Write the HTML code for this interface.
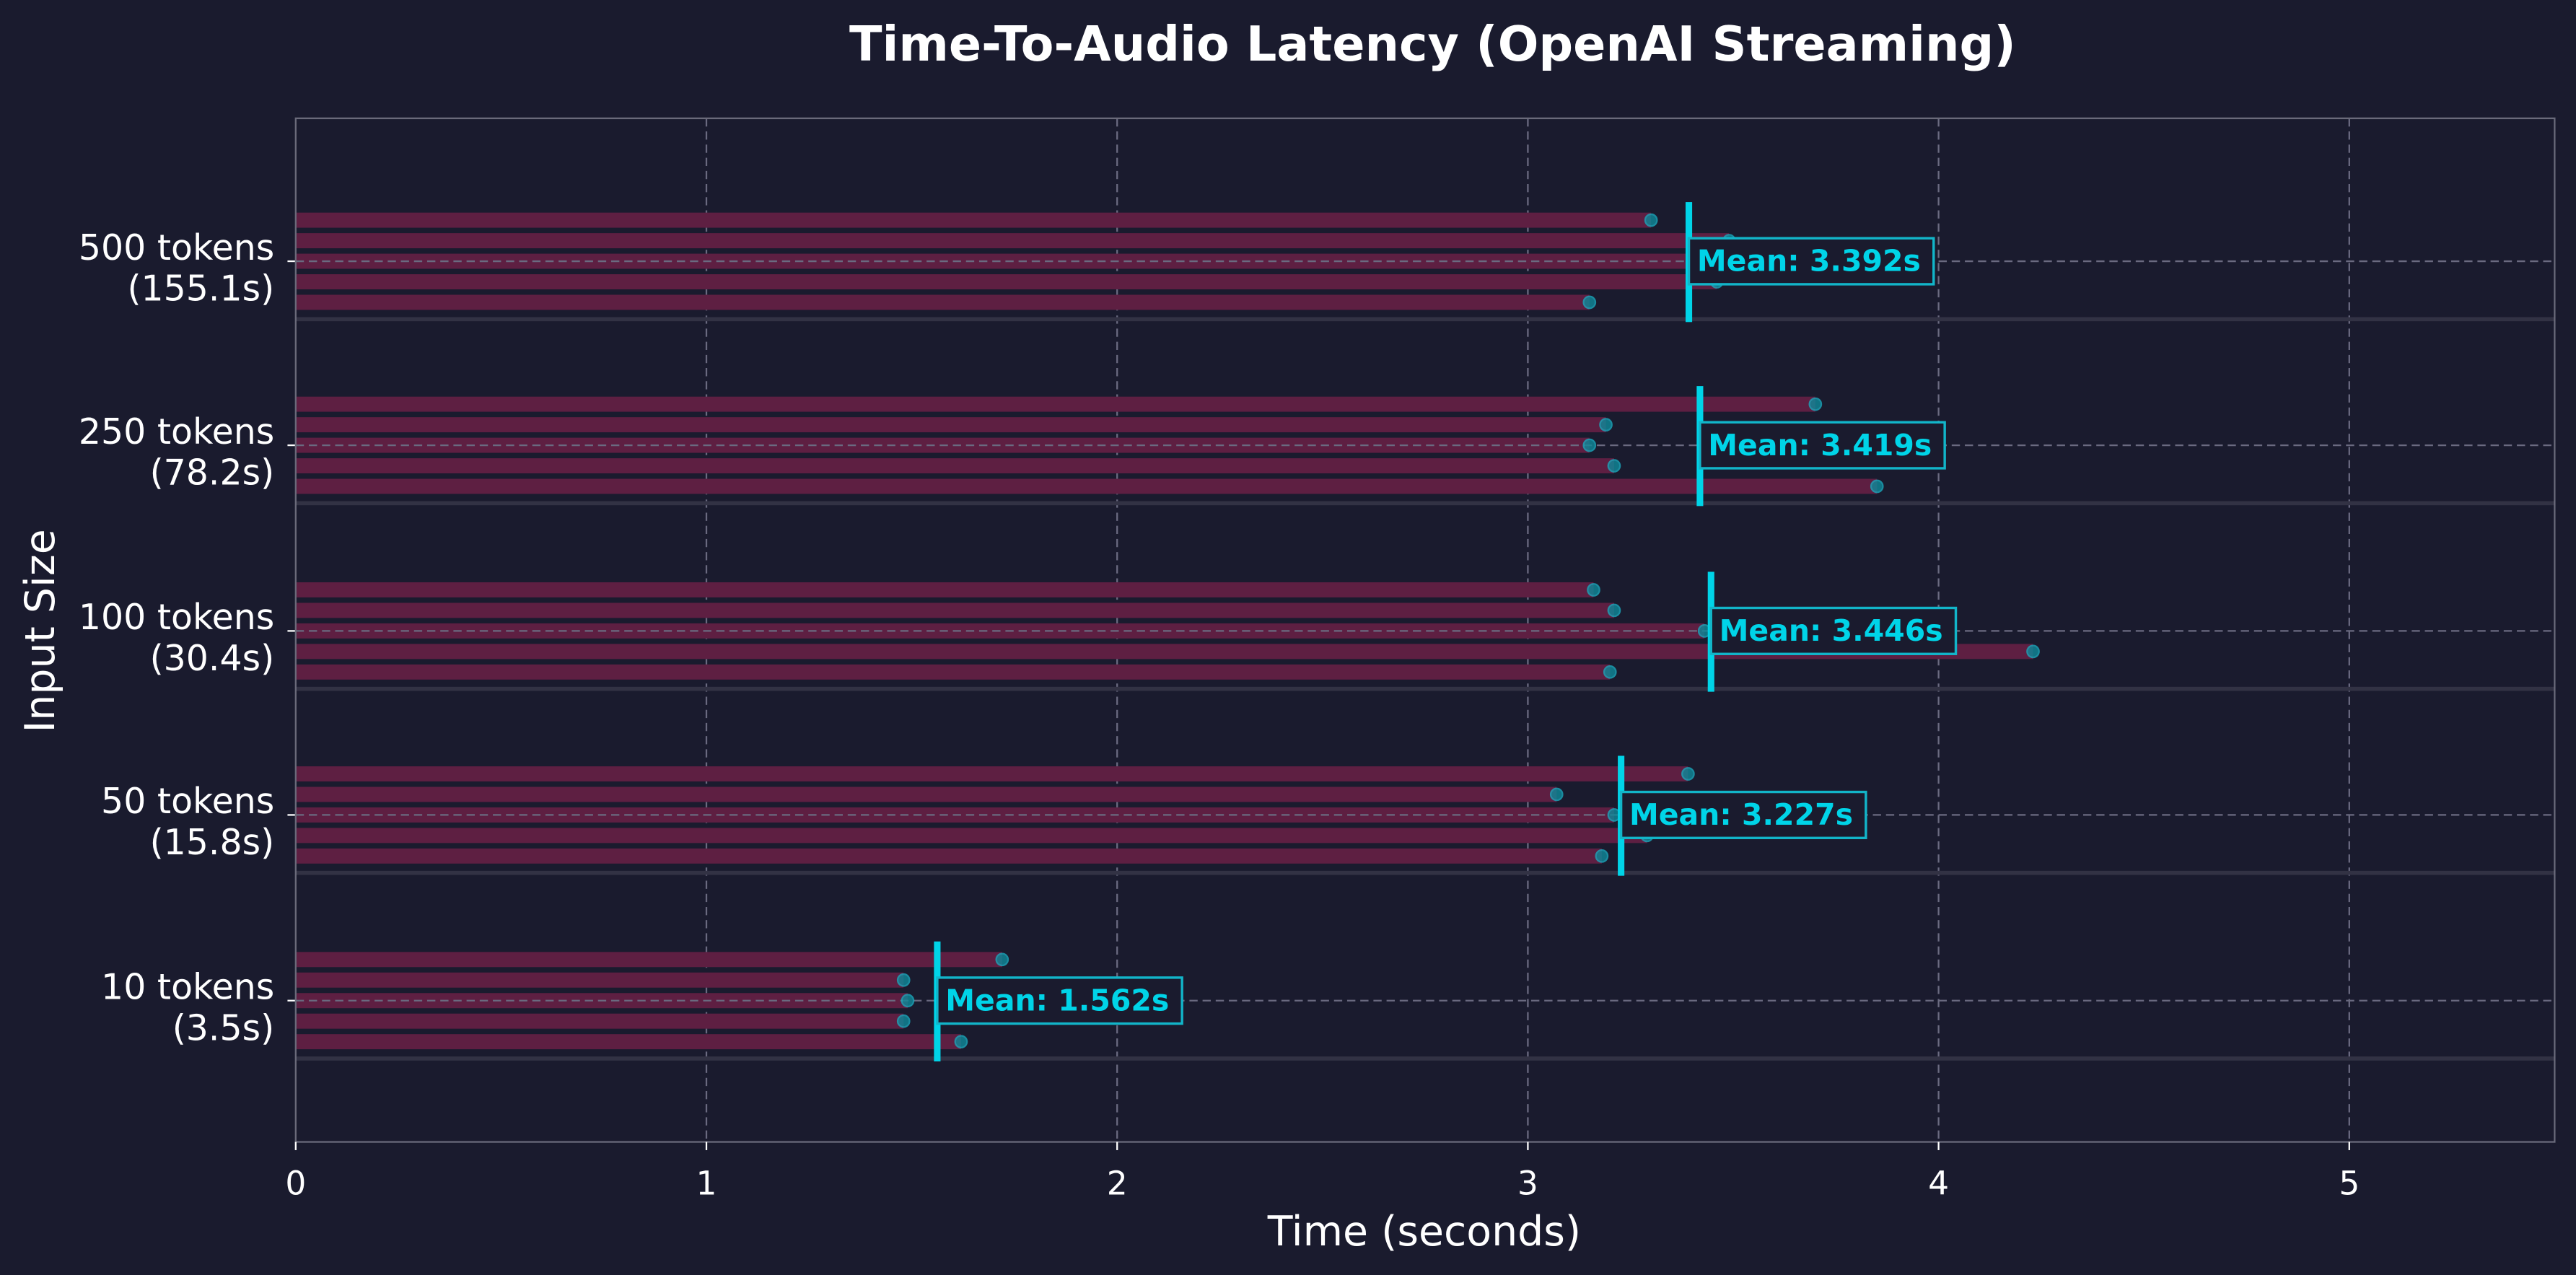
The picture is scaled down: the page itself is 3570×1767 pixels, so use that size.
<!DOCTYPE html>
<html><head><meta charset="utf-8"><style>html,body{margin:0;padding:0;background:#1a1b2e;}svg{display:block}</style></head><body>
<svg width="3570" height="1767" viewBox="0 0 1568 776" preserveAspectRatio="none" xmlns="http://www.w3.org/2000/svg" font-family="'DejaVu Sans','Liberation Sans',sans-serif">
<rect width="1568" height="776" fill="#1a1b2e"/>
<text x="872" y="37" text-anchor="middle" font-size="29.3" font-weight="bold" fill="#ffffff">Time-To-Audio Latency (OpenAI Streaming)</text>
<g stroke="#6a6a80" stroke-width="1" stroke-dasharray="5,3">
<line x1="430" y1="72" x2="430" y2="695"/><line x1="680" y1="72" x2="680" y2="695"/><line x1="930" y1="72" x2="930" y2="695"/><line x1="1180" y1="72" x2="1180" y2="695"/><line x1="1430" y1="72" x2="1430" y2="695"/>
</g>

<!-- 500 -->
<g transform="translate(0,159)">
<rect x="180" y="34" width="1375" height="2.5" fill="#323244"/>
<g fill="#5e1f42"><rect x="180" y="-29.6" width="825" height="9.2"/><rect x="180" y="-17.1" width="872.5" height="9.2"/><rect x="180" y="-4.6" width="890" height="9.2"/><rect x="180" y="7.9" width="865" height="9.2"/><rect x="180" y="20.4" width="787.5" height="9.2"/></g>
<line x1="180" y1="0" x2="1555" y2="0" stroke="#6a6a80" stroke-width="1" stroke-dasharray="5,3"/>
<g fill="#0f8a9a" stroke="#1aa9bd" stroke-width="1" opacity="0.8"><circle cx="1005" cy="-25" r="3.6"/><circle cx="1052.5" cy="-12.5" r="3.6"/><circle cx="1070" cy="0" r="3.6"/><circle cx="1045" cy="12.5" r="3.6"/><circle cx="967.5" cy="25" r="3.6"/></g>
<rect x="1026" y="-36" width="4" height="73" fill="#00d4e8"/>
<rect x="1028" y="-14" width="149" height="28" fill="#1a1b2e" stroke="#12b5c9" stroke-width="1.5"/>
<text x="1033" y="6" font-size="18" font-weight="bold" fill="#00d4e8">Mean: 3.392s</text>
<line x1="175" y1="0" x2="180" y2="0" stroke="#fff"/>
<text x="167" y="-1" text-anchor="end" font-size="21.5" fill="#fff">500 tokens</text>
<text x="167" y="24" text-anchor="end" font-size="21.5" fill="#fff">(155.1s)</text>
</g>

<!-- 250 -->
<g transform="translate(0,271)">
<rect x="180" y="34" width="1375" height="2.5" fill="#323244"/>
<g fill="#5e1f42"><rect x="180" y="-29.6" width="925" height="9.2"/><rect x="180" y="-17.1" width="797.5" height="9.2"/><rect x="180" y="-4.6" width="787.5" height="9.2"/><rect x="180" y="7.9" width="802.5" height="9.2"/><rect x="180" y="20.4" width="962.5" height="9.2"/></g>
<line x1="180" y1="0" x2="1555" y2="0" stroke="#6a6a80" stroke-width="1" stroke-dasharray="5,3"/>
<g fill="#0f8a9a" stroke="#1aa9bd" stroke-width="1" opacity="0.8"><circle cx="1105" cy="-25" r="3.6"/><circle cx="977.5" cy="-12.5" r="3.6"/><circle cx="967.5" cy="0" r="3.6"/><circle cx="982.5" cy="12.5" r="3.6"/><circle cx="1142.5" cy="25" r="3.6"/></g>
<rect x="1032.75" y="-36" width="4" height="73" fill="#00d4e8"/>
<rect x="1034.75" y="-14" width="149" height="28" fill="#1a1b2e" stroke="#12b5c9" stroke-width="1.5"/>
<text x="1039.75" y="6" font-size="18" font-weight="bold" fill="#00d4e8">Mean: 3.419s</text>
<line x1="175" y1="0" x2="180" y2="0" stroke="#fff"/>
<text x="167" y="-1" text-anchor="end" font-size="21.5" fill="#fff">250 tokens</text>
<text x="167" y="24" text-anchor="end" font-size="21.5" fill="#fff">(78.2s)</text>
</g>

<!-- 100 -->
<g transform="translate(0,384)">
<rect x="180" y="34" width="1375" height="2.5" fill="#323244"/>
<g fill="#5e1f42"><rect x="180" y="-29.6" width="790" height="9.2"/><rect x="180" y="-17.1" width="802.5" height="9.2"/><rect x="180" y="-4.6" width="857.5" height="9.2"/><rect x="180" y="7.9" width="1057.5" height="9.2"/><rect x="180" y="20.4" width="800" height="9.2"/></g>
<line x1="180" y1="0" x2="1555" y2="0" stroke="#6a6a80" stroke-width="1" stroke-dasharray="5,3"/>
<g fill="#0f8a9a" stroke="#1aa9bd" stroke-width="1" opacity="0.8"><circle cx="970" cy="-25" r="3.6"/><circle cx="982.5" cy="-12.5" r="3.6"/><circle cx="1037.5" cy="0" r="3.6"/><circle cx="1237.5" cy="12.5" r="3.6"/><circle cx="980" cy="25" r="3.6"/></g>
<rect x="1039.5" y="-36" width="4" height="73" fill="#00d4e8"/>
<rect x="1041.5" y="-14" width="149" height="28" fill="#1a1b2e" stroke="#12b5c9" stroke-width="1.5"/>
<text x="1046.5" y="6" font-size="18" font-weight="bold" fill="#00d4e8">Mean: 3.446s</text>
<line x1="175" y1="0" x2="180" y2="0" stroke="#fff"/>
<text x="167" y="-1" text-anchor="end" font-size="21.5" fill="#fff">100 tokens</text>
<text x="167" y="24" text-anchor="end" font-size="21.5" fill="#fff">(30.4s)</text>
</g>

<!-- 50 -->
<g transform="translate(0,496)">
<rect x="180" y="34" width="1375" height="2.5" fill="#323244"/>
<g fill="#5e1f42"><rect x="180" y="-29.6" width="847.5" height="9.2"/><rect x="180" y="-17.1" width="767.5" height="9.2"/><rect x="180" y="-4.6" width="802.5" height="9.2"/><rect x="180" y="7.9" width="822.5" height="9.2"/><rect x="180" y="20.4" width="795" height="9.2"/></g>
<line x1="180" y1="0" x2="1555" y2="0" stroke="#6a6a80" stroke-width="1" stroke-dasharray="5,3"/>
<g fill="#0f8a9a" stroke="#1aa9bd" stroke-width="1" opacity="0.8"><circle cx="1027.5" cy="-25" r="3.6"/><circle cx="947.5" cy="-12.5" r="3.6"/><circle cx="982.5" cy="0" r="3.6"/><circle cx="1002.5" cy="12.5" r="3.6"/><circle cx="975" cy="25" r="3.6"/></g>
<rect x="984.75" y="-36" width="4" height="73" fill="#00d4e8"/>
<rect x="986.75" y="-14" width="149" height="28" fill="#1a1b2e" stroke="#12b5c9" stroke-width="1.5"/>
<text x="991.75" y="6" font-size="18" font-weight="bold" fill="#00d4e8">Mean: 3.227s</text>
<line x1="175" y1="0" x2="180" y2="0" stroke="#fff"/>
<text x="167" y="-1" text-anchor="end" font-size="21.5" fill="#fff">50 tokens</text>
<text x="167" y="24" text-anchor="end" font-size="21.5" fill="#fff">(15.8s)</text>
</g>

<!-- 10 -->
<g transform="translate(0,609)">
<rect x="180" y="34" width="1375" height="2.5" fill="#323244"/>
<g fill="#5e1f42"><rect x="180" y="-29.6" width="430" height="9.2"/><rect x="180" y="-17.1" width="370" height="9.2"/><rect x="180" y="-4.6" width="372.5" height="9.2"/><rect x="180" y="7.9" width="370" height="9.2"/><rect x="180" y="20.4" width="405" height="9.2"/></g>
<line x1="180" y1="0" x2="1555" y2="0" stroke="#6a6a80" stroke-width="1" stroke-dasharray="5,3"/>
<g fill="#0f8a9a" stroke="#1aa9bd" stroke-width="1" opacity="0.8"><circle cx="610" cy="-25" r="3.6"/><circle cx="550" cy="-12.5" r="3.6"/><circle cx="552.5" cy="0" r="3.6"/><circle cx="550" cy="12.5" r="3.6"/><circle cx="585" cy="25" r="3.6"/></g>
<rect x="568.5" y="-36" width="4" height="73" fill="#00d4e8"/>
<rect x="570.5" y="-14" width="149" height="28" fill="#1a1b2e" stroke="#12b5c9" stroke-width="1.5"/>
<text x="575.5" y="6" font-size="18" font-weight="bold" fill="#00d4e8">Mean: 1.562s</text>
<line x1="175" y1="0" x2="180" y2="0" stroke="#fff"/>
<text x="167" y="-1" text-anchor="end" font-size="21.5" fill="#fff">10 tokens</text>
<text x="167" y="24" text-anchor="end" font-size="21.5" fill="#fff">(3.5s)</text>
</g>

<rect x="180" y="72" width="1375" height="623" fill="none" stroke="#6a6a7a" stroke-width="1"/>
<g fill="#ffffff" font-size="20" text-anchor="middle">
<text x="180" y="727">0</text><text x="430" y="727">1</text><text x="680" y="727">2</text><text x="930" y="727">3</text><text x="1180" y="727">4</text><text x="1430" y="727">5</text>
</g>
<g stroke="#ffffff" stroke-width="1">
<line x1="180" y1="695" x2="180" y2="700"/><line x1="430" y1="695" x2="430" y2="700"/><line x1="680" y1="695" x2="680" y2="700"/><line x1="930" y1="695" x2="930" y2="700"/><line x1="1180" y1="695" x2="1180" y2="700"/><line x1="1430" y1="695" x2="1430" y2="700"/>
</g>
<text x="867" y="758" text-anchor="middle" font-size="25" fill="#ffffff">Time (seconds)</text>
<text transform="translate(33,384) rotate(-90)" text-anchor="middle" font-size="25" fill="#ffffff">Input Size</text>
</svg>
</body></html>
